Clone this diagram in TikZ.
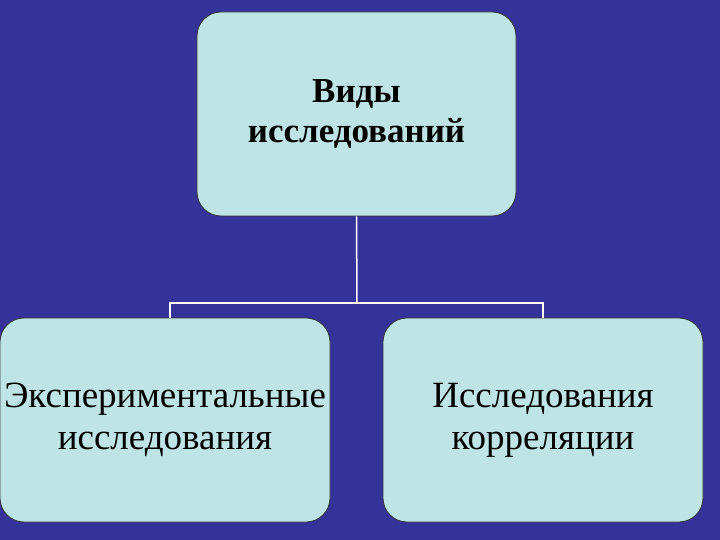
\documentclass[tikz,border=0pt]{standalone}
\usepackage{fontspec}
\setmainfont{Liberation Serif}
\begin{document}
\begin{tikzpicture}[x=1pt,y=-1pt,
  box/.style={draw=black!80,line width=0.8pt,fill=boxc,rounded corners=24pt,inner sep=0pt,align=center},
  conn/.style={draw=white,line width=1.5pt}]
\definecolor{bg}{HTML}{333399}
\definecolor{boxc}{HTML}{BFE4E6}
\fill[bg] (0,0) rectangle (720,540);
\useasboundingbox (0,0) rectangle (720,540);
\node[box,minimum width=319pt,minimum height=204pt,font=\fontsize{35}{40}\selectfont\bfseries] (top) at (356.5,114) {Виды\\исследований};
\node[box,minimum width=330pt,minimum height=204pt,font=\fontsize{37}{42}\selectfont] (l) at (165,420) {Экспериментальные\\исследования};
\node[box,minimum width=320pt,minimum height=204pt,font=\fontsize{37}{42}\selectfont] (r) at (543,420) {Исследования\\корреляции};
\coordinate (j) at (357,303);
\coordinate (jl) at (170,303);
\coordinate (jr) at (543,303);
\draw[conn] (top.south) -- (j);
\draw[conn] (l.north -| jl) -- (jl) -- (jr) -- (r.north);
\end{tikzpicture}
\end{document}
